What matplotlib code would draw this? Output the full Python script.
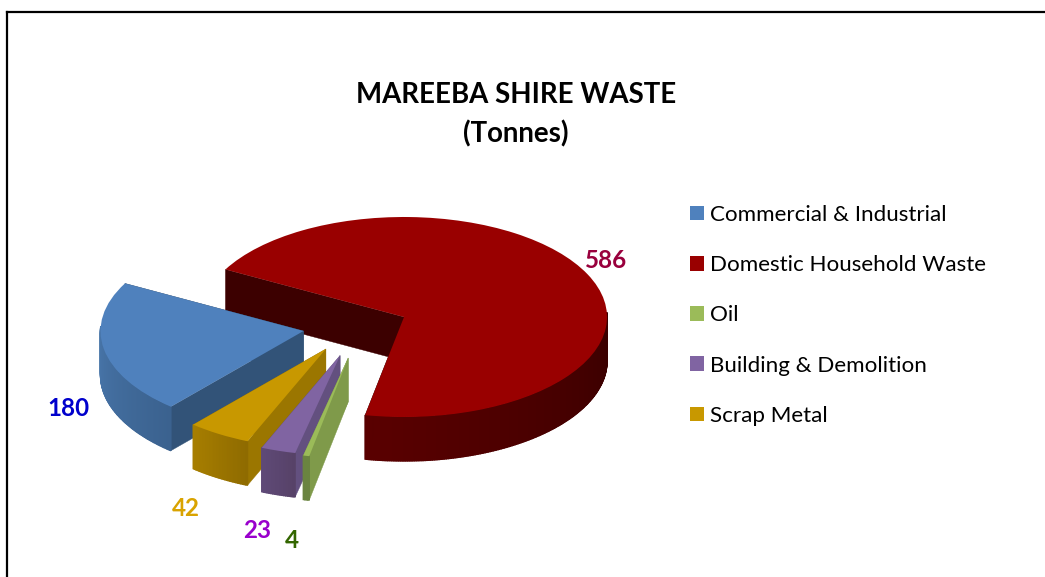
import numpy as np
import matplotlib
matplotlib.use('Agg')
import matplotlib.pyplot as plt
from matplotlib.lines import Line2D
from matplotlib.patches import Patch

categories = ['Commercial & Industrial', 'Domestic Household Waste', 'Oil', 'Building & Demolition', 'Scrap Metal']
tonnes = [180, 586, 4, 23, 42]

top_colors = ['#4F81BD', '#990000', '#9BBB59', '#8064A2', '#C89800']
cut_colors = ['#325378', '#3C0000', '#7F9A4A', '#63507F', '#9B7600']
rim_from = ['#4F80B8', '#5A0000', '#6A8440', '#5F4A78', '#A87F00']
rim_to = ['#3B628F', '#3A0000', '#6A8440', '#574268', '#8F6B00']
label_colors = ['#0000CC', '#99003D', '#336600', '#9900CC', '#D9A300']

W, H = 1045, 577
CX, CY = 403, 317    # pixel position of the un-exploded pie centre
RX, RY = 203, 100    # pixels per unit radius
DEPTH = 0.44         # thickness of the pie, in y units

# slice offsets from the pie centre, x and y units
shift_x = [-0.49, 0.005, -0.27, -0.31, -0.38]
shift_y = [-0.14, 0.0, -0.41, -0.385, -0.32]
# pixel position of the number next to each slice
label_pos = [(68, 408), (606, 260), (292, 540), (257, 531), (186, 509)]
draw_order = [1, 0, 4, 3, 2]


def hex_rgb(c):
    return np.array(matplotlib.colors.to_rgb(c))


def draw_sides(ax, wedge, cut, c_from, c_to):
    (x0, y0), r = wedge.center, wedge.r
    t1, t2 = wedge.theta1, wedge.theta2
    # flat faces where the slice was cut
    for t in (t1, t2):
        a = np.radians(t)
        xs = [x0, x0 + r*np.cos(a), x0 + r*np.cos(a), x0]
        ys = [y0, y0 + r*np.sin(a), y0 + r*np.sin(a) - DEPTH, y0 - DEPTH]
        ax.fill(xs, ys, color=cut, lw=0.3, zorder=wedge.get_zorder())
    # rim, in short steps so it can shade along the arc
    shade_end = min(t2, t1 + 101)
    steps = np.linspace(t1, t2, max(int(t2 - t1) * 2, 4) + 1)
    for a0, a1 in zip(steps[:-1], steps[1:]):
        if np.sin(np.radians((a0 + a1) / 2)) > 0.05:
            continue
        f = np.interp((a0 + a1) / 2, [t1, shade_end], [0, 1])
        col = hex_rgb(c_from) * (1 - f) + hex_rgb(c_to) * f
        ra = np.radians([a0, a1])
        xs = x0 + r*np.cos(ra)
        ys = y0 + r*np.sin(ra)
        ax.fill(np.r_[xs, xs[::-1]], np.r_[ys, ys[::-1] - DEPTH], color=col, lw=1.0, zorder=wedge.get_zorder())


fig = plt.figure(figsize=(W/100, H/100), dpi=100)
plt.rcParams['font.family'] = ['Lato', 'DejaVu Sans']
ax = fig.add_axes([0, 0, 1, 1])

wedges, _ = ax.pie(tonnes, colors=top_colors, startangle=229.2, counterclock=False, radius=1, center=(0, 0))
ax.set_aspect('auto')
ax.set_xlim(-CX/RX, (W - CX)/RX)
ax.set_ylim((CY - H)/RY, CY/RY)

for rank, i in enumerate(draw_order):
    w = wedges[i]
    w.set_center((shift_x[i], shift_y[i]))
    w.set_zorder(3 + rank)
    w.set_linewidth(0)
    draw_sides(ax, w, cut_colors[i], rim_from[i], rim_to[i])
    w.set_zorder(3.5 + rank)

# frame of the pasted chart, only left and top show
fig.add_artist(Line2D([7/W, 7/W], [0, 1 - 12/H], color='black', lw=1.6))
fig.add_artist(Line2D([7/W, 1], [1 - 12/H, 1 - 12/H], color='black', lw=1.6))

fig.text(516/W, 1 - 115/H, 'MAREEBA SHIRE WASTE\n(Tonnes)', ha='center', va='center',
         fontsize=19.9, fontweight='bold', linespacing=1.56, color='black')

for i, val in enumerate(tonnes):
    fig.text(label_pos[i][0]/W, 1 - label_pos[i][1]/H, str(val), ha='center', va='center',
             fontsize=17.4, fontweight='bold', color=label_colors[i])

handles = [Patch(facecolor=c, edgecolor='none') for c in top_colors]
fig.legend(handles, categories, loc='upper left', bbox_to_anchor=(690/W, 1 - 205/H),
           frameon=False, fontsize=16.1, handlelength=0.625, handleheight=0.625,
           handletextpad=0.27, labelspacing=1.35, borderpad=0, borderaxespad=0)

plt.savefig('out.png', dpi=100)
